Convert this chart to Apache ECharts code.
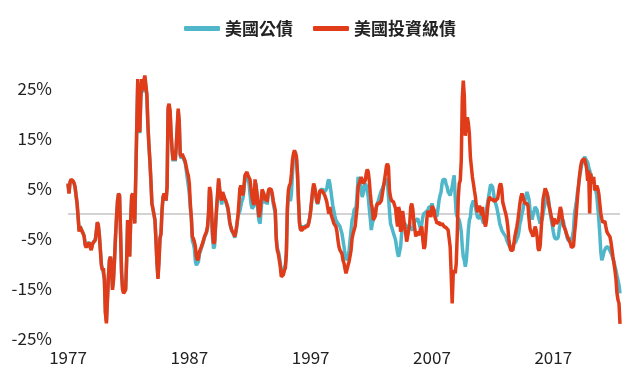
<!DOCTYPE html>
<html><head><meta charset="utf-8">
<script src="https://cdn.jsdelivr.net/npm/echarts@6/dist/echarts.min.js"></script>
<style>html,body{margin:0;padding:0;background:#fff}#c{width:640px;height:384px}</style>
</head><body><div id="c"></div>
<script>
var startYear = 1977;
var seriesNames = ['美國公債', '美國投資級債'];
var yTicks = [-25, -15, -5, 5, 15, 25];

var treasury = [
5.8,4.2,6.1,6.6,6.5,6.4,6.0,5.2,3.6,2.0,-0.6,-3.4,
-2.5,-2.2,-3.5,-3.9,-4.5,-6.1,-6.6,-6.2,-5.9,-5.7,-6.6,-7.1,
-6.2,-5.7,-5.5,-5.2,-3.6,-1.8,-2.4,-4.2,-7.1,-10.0,-11.0,-10.7,
-13.0,-19.5,-21.5,-17.0,-12.5,-9.2,-8.6,-10.4,-14.9,-13.0,-9.2,-4.6,
-0.8,2.5,3.9,3.5,-3.9,-11.6,-14.9,-15.6,-15.3,-15.0,-9.2,-1.4,
-4.5,-8.4,-1.4,3.4,3.8,1.9,-1.9,7.0,16.8,26.2,25.9,16.0,
22.8,26.2,24.1,26.0,27.0,26.7,23.4,17.6,13.6,10.4,6.4,1.9,
0.9,0.6,-1.3,-5.2,-9.7,-12.7,-9.3,-4.9,-3.9,0.6,3.2,3.8,
3.5,2.6,5.1,20.6,21.3,20.0,15.6,12.4,10.4,12.3,10.4,12.9,
16.8,20.4,18.0,11.6,11.0,11.6,11.0,10.6,10.0,8.6,7.0,5.6,
4.0,1.0,-1.0,-5.5,-6.0,-7.0,-9.5,-10.3,-10.5,-9.6,-8.0,-7.6,
-6.8,-6.2,-5.5,-4.8,-4.5,-3.8,-2.8,-0.3,4.8,3.8,-0.5,-5.0,
-7.0,-6.5,-2.6,0.8,3.6,6.5,4.6,3.0,1.8,3.0,3.6,2.8,
2.4,2.1,1.0,-0.3,-1.9,-2.8,-3.5,-3.8,-4.2,-4.8,-3.8,-2.5,
-0.5,-0.5,0.5,1.5,2.5,3.0,4.5,7.0,7.5,7.8,6.8,6.0,
4.0,2.0,1.0,1.0,1.5,5.5,6.0,3.0,0,-1.5,-2.0,0.5,
3.5,4.0,3.3,2.0,2.8,1.8,3.8,4.5,4.8,4.3,3.5,2.0,
1.8,0,-4.5,-6.8,-7.5,-8.5,-9.8,-11.8,-12.3,-11.8,-10.8,-10.3,
-7.5,0.5,3.5,3.0,2.5,4.0,8.0,10.8,11.8,12.3,10.8,7.5,
2.3,-1.8,-3.0,-3.3,-3.0,-2.4,-2.8,-2.4,-2.1,-2.4,-1.8,-0.8,
0.6,2.4,4.2,5.5,4.9,3.7,2.4,1.9,2.8,4.2,4.8,5.0,
4.8,4.6,4.3,4.0,5.0,6.3,6.8,6.0,4.6,3.0,1.5,0.5,
-0.5,-1.3,-1.5,-2.0,-2.3,-2.6,-2.6,-4.0,-5.3,-6.6,-8.0,-9.3,
-9.3,-8.6,-7.3,-5.3,-3.3,-1.3,-0.7,0.7,1.0,1.3,4.0,7.3,
7.6,6.0,4.6,3.3,4.0,5.6,6.0,5.6,5.3,3.3,1.0,-1.0,
-3.3,-2.0,-1.3,0,0.7,1.3,2.0,2.6,3.3,4.0,4.6,5.0,
5.3,6.0,6.6,7.0,6.3,3.3,0.5,-2.0,-2.6,-3.3,-4.0,-4.6,
-5.3,-6.6,-7.9,-8.6,-8.3,-6.6,-4.0,-2.0,-2.0,-2.0,-2.3,-2.6,
-2.6,-3.0,-2.6,-3.0,-3.0,-3.3,-2.0,-2.3,-1.3,-1.3,-1.0,-1.3,
-2.6,-3.3,-2.0,-0.7,0,0,0.3,0,0.7,1.3,1.3,1.3,
2.0,1.3,0.7,-0.5,-0.3,-0.5,1.0,2.6,3.6,4.3,6.0,6.8,
7.0,6.8,5.8,5.3,4.3,4.0,3.6,3.3,5.3,6.6,7.6,3.3,
0,-0.7,-0.7,-1.3,-2.3,-3.6,-6.6,-8.6,-9.3,-10.6,-9.3,-6.6,
-3.3,-1.3,-0.7,1.3,2.0,2.6,2.3,1.3,0.3,-0.7,-0.7,-1.0,
-0.3,-0.7,-1.3,-2.0,-2.0,-1.0,1.0,2.0,3.3,4.6,5.8,6.0,
5.3,4.0,2.6,2.0,1.3,1.0,-0.7,-2.0,-2.6,-3.3,-3.3,-4.0,
-4.3,-4.6,-5.3,-5.6,-6.3,-6.6,-6.6,-6.6,-6.6,-6.0,-5.8,-5.6,
-5.0,-4.6,-3.6,-2.0,-1.3,0,0.7,2.0,2.6,3.6,4.3,4.0,
2.8,0.8,-0.3,-1.2,-0.3,0.5,1.3,1.0,0.7,-0.4,-1.2,-2.0,
-1.7,-1.2,0,1.2,2.0,3.0,3.8,3.2,1.7,0,-1.2,-2.3,
-3.6,-4.6,-5.0,-5.3,-5.0,-4.6,-3.0,-1.9,-0.7,-1.0,-1.5,-2.6,
-3.4,-4.1,-5.0,-5.4,-5.6,-5.5,-5.3,-4.5,-3.3,0,1.3,2.6,
4.3,5.6,7.3,8.4,9.6,10.3,10.7,11.3,10.9,10.6,10.2,9.3,
8.6,7.8,7.3,6.9,6.5,5.6,4.6,3.6,1.3,-1.0,-4.0,-7.6,
-9.3,-8.7,-7.8,-7.2,-6.8,-6.6,-6.6,-7.0,-7.3,-7.8,-8.3,-8.6,
-9.6,-10.5,-11.3,-12.3,-12.6,-14.2,-15.9
];

var corporate = [
6.0,4.0,6.3,6.8,6.6,6.5,6.1,5.3,3.6,2.0,-0.7,-3.6,
-2.6,-2.3,-3.6,-4.0,-4.6,-6.3,-6.8,-6.3,-6.0,-5.8,-6.8,-7.3,
-6.3,-5.8,-5.6,-5.3,-3.6,-1.7,-2.3,-4.3,-7.3,-10.3,-11.3,-10.9,
-13.2,-19.9,-21.9,-17.2,-12.6,-9.3,-8.6,-10.6,-15.2,-13.2,-9.3,-4.6,
-0.7,2.6,4.0,3.6,-4.0,-11.9,-15.2,-15.9,-15.6,-15.2,-9.3,-1.3,
-4.6,-8.6,-1.3,3.6,4.0,2.0,-2.0,7.3,17.2,26.8,26.5,16.2,
23.2,26.8,24.5,26.5,27.5,27.2,23.8,17.9,13.9,10.6,6.6,2.0,
1.0,0.7,-1.3,-5.3,-9.9,-13.0,-9.5,-5.0,-4.0,0.7,3.3,4.0,
3.6,2.6,5.3,21.2,21.9,20.5,15.9,12.6,10.6,12.6,10.6,13.2,
17.2,20.9,18.5,11.9,11.3,11.9,11.3,10.9,10.3,9.3,8.3,7.6,
6.0,2.0,-0.7,-4.6,-5.0,-5.6,-6.6,-8.6,-9.3,-8.9,-7.6,-7.3,
-6.6,-6.0,-5.3,-4.6,-4.3,-3.6,-2.6,0,5.3,4.3,0.7,-4.0,
-6.0,-5.6,-2.0,1.3,4.0,7.0,5.0,3.3,2.6,4.3,4.3,3.0,
2.6,2.3,1.3,0,-1.7,-2.6,-3.3,-3.6,-4.0,-4.6,-3.6,-2.3,
-0.7,2.0,5.0,5.6,5.3,3.6,5.3,7.6,7.9,8.3,7.6,7.3,
6.8,5.0,3.3,2.3,1.7,6.8,6.6,4.0,1.3,-0.7,0.3,2.6,
4.8,4.5,3.8,2.6,3.3,2.3,4.3,5.0,5.3,4.8,4.0,2.6,
2.6,0.7,-5.3,-7.3,-8.0,-9.3,-10.6,-12.6,-12.9,-12.2,-11.3,-10.9,
-8.0,1.3,4.6,5.6,6.0,7.9,10.6,11.9,12.6,12.9,11.3,8.0,
2.6,-2.0,-3.3,-3.6,-3.3,-2.6,-3.0,-2.6,-2.3,-2.6,-2.0,-1.0,
0.5,2.6,4.6,6.0,5.3,4.0,2.6,2.0,3.0,4.5,4.6,4.6,
4.3,4.0,3.6,3.0,2.3,1.0,0,1.3,0,-0.7,-1.3,-2.0,
-2.3,-2.6,-3.6,-5.3,-6.6,-7.3,-7.6,-8.0,-9.3,-9.9,-11.0,-11.9,
-12.2,-10.3,-9.6,-9.3,-7.3,-5.0,-4.0,-3.3,-2.6,-2.6,1.3,5.3,
6.0,6.6,7.3,7.6,6.0,6.3,6.6,8.0,8.8,8.3,6.6,4.0,
2.0,1.0,-1.3,-1.0,-0.5,1.3,2.0,2.0,2.0,2.3,2.6,4.0,
5.3,6.6,8.0,9.5,9.9,9.3,4.6,3.3,2.6,2.3,2.3,2.0,
1.0,-1.0,-2.6,1.3,0.5,-3.6,-3.0,0.5,-1.0,-2.6,-4.0,-5.6,
-5.3,-3.3,-2.0,1.3,2.0,1.0,-1.3,-3.0,-4.6,-3.6,-3.3,-4.3,
-4.0,-3.0,-2.6,-5.3,-7.0,-6.6,-4.0,-1.0,0.5,0.3,0,-0.7,
1.5,1.3,0.7,-0.7,-1.3,-2.0,-2.0,-1.7,-2.3,-2.3,-2.0,-2.3,
-2.6,-2.6,-2.8,-3.0,-3.3,-3.6,-6.6,-11.9,-17.9,-12.2,-11.3,-11.9,
-10.0,-4.3,3.0,6.0,6.6,10.6,23.0,26.5,23.5,15.5,18.5,19.2,
18.0,15.9,11.3,9.3,7.3,6.0,4.6,3.3,1.3,0.3,1.0,1.6,
1.3,-0.3,1.3,-0.7,-1.7,-2.6,-1.3,1.0,2.6,3.3,3.0,2.6,
3.0,2.5,2.6,2.6,2.6,3.0,4.3,5.6,6.0,5.0,2.3,1.5,
0.7,0,-1.0,-2.6,-5.0,-6.6,-7.3,-7.6,-7.3,-6.0,-4.6,-3.6,
-2.6,-1.3,0.3,2.0,3.3,4.0,3.3,2.6,2.0,2.3,2.0,1.5,
-1.0,-3.0,-3.6,-4.0,-4.6,-3.6,-2.6,-3.3,-4.6,-7.0,-7.4,-6.5,
-3.3,0,3.0,4.0,5.0,5.0,4.0,2.6,1.3,0.5,-0.5,-1.3,
-2.6,-1.0,-1.0,-2.0,-2.3,-1.5,0,1.3,0.5,-1.0,-2.3,-2.8,
-3.3,-4.0,-4.6,-5.0,-5.3,-6.0,-6.8,-7.0,-6.5,-4.0,-2.0,0.7,
3.3,5.6,7.6,9.3,10.3,10.7,10.9,10.9,10.6,9.0,6.5,8.6,
0,8.0,6.0,6.6,7.3,4.6,4.3,5.6,5.0,4.0,2.0,0,
-1.0,-1.8,-2.0,-1.5,-2.6,-3.6,-4.0,-4.3,-4.6,-5.6,-7.0,-8.6,
-9.9,-11.3,-13.0,-15.9,-17.2,-17.9,-22.0
];

var months = [];
for (var i = 0; i < corporate.length; i++) {
  var y = startYear + Math.floor(i / 12), m = i % 12 + 1;
  months.push(y + '-' + (m < 10 ? '0' + m : m));
}

var FONT = '"Noto Sans CJK TC", "Noto Sans", sans-serif';
var chart = echarts.init(document.getElementById('c'), null, {renderer: 'canvas'});
chart.setOption({
  animation: false,
  backgroundColor: '#ffffff',
  legend: {
    top: 15, left: 'center', itemGap: 20,
    itemWidth: 36, itemHeight: 5, icon: 'roundRect',
    textStyle: {fontFamily: FONT, fontSize: 17, fontWeight: 'bold', color: '#222'},
    data: seriesNames
  },
  grid: {left: 68, right: 20, top: 63, bottom: 45, containLabel: false},
  xAxis: {
    type: 'category', boundaryGap: false, data: months,
    axisLine: {show: false}, axisTick: {show: false}, splitLine: {show: false},
    axisLabel: {
      interval: function (idx) { return idx % 120 === 0; },
      formatter: function (v) { return v.slice(0, 4); },
      fontFamily: FONT, fontSize: 17, color: '#222', margin: 10
    }
  },
  yAxis: {
    type: 'value', min: -25, max: 30, interval: 10,
    axisLine: {show: false}, axisTick: {show: false}, splitLine: {show: false},
    axisLabel: {
      margin: 16, fontFamily: FONT, fontSize: 17, color: '#222',
      formatter: function (v) { return yTicks.indexOf(v) >= 0 ? v + '%' : ''; }
    }
  },
  series: [
    {
      name: seriesNames[0], type: 'line', data: treasury, showSymbol: false,
      lineStyle: {color: '#4fb7c9', width: 3.5}, itemStyle: {color: '#4fb7c9'},
      markLine: {
        silent: true, symbol: 'none', label: {show: false},
        lineStyle: {color: '#d3d3d3', width: 2, type: 'solid'},
        data: [{yAxis: 0}], z: 1
      },
      z: 2
    },
    {
      name: seriesNames[1], type: 'line', data: corporate, showSymbol: false,
      lineStyle: {color: '#e03c1a', width: 3.5}, itemStyle: {color: '#e03c1a'},
      z: 3
    }
  ]
});
</script>
</body></html>
